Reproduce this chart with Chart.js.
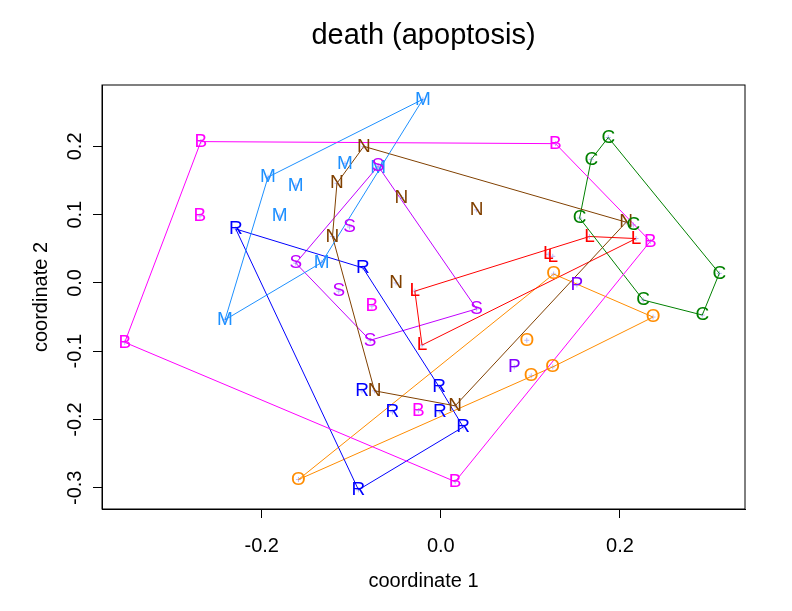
<!DOCTYPE html>
<html>
<head>
<meta charset="UTF-8">
<title>death (apoptosis)</title>
<script src="https://cdn.jsdelivr.net/npm/chart.js"></script>
<style>
  body { margin: 0; background: #fff; }
</style>
</head>
<body>
<canvas id="mdsChart" width="792" height="611"></canvas>
<script>
// group letters and their colours
const groups  = ['B', 'M', 'N', 'C', 'L', 'R', 'S', 'O', 'P'];
const colours = ['#FF00FF', '#1E90FF', '#804000', '#008000', '#FF0000', '#0000FF', '#C000FF', '#FF8C00', '#8000FF'];

// coordinate 1 (x) and coordinate 2 (y) of every sample, per group
const bX = [-0.268, -0.269, 0.128, 0.234, 0.016, -0.353, -0.077, -0.025];
const bY = [0.207, 0.098, 0.204, 0.061, -0.291, -0.087, -0.034, -0.187];
const mX = [-0.020, -0.193, -0.162, -0.107, -0.070, -0.180, -0.133, -0.241];
const mY = [0.269, 0.155, 0.143, 0.175, 0.168, 0.098, 0.030, -0.054];
const nX = [-0.086, -0.116, -0.044, 0.040, 0.207, -0.121, -0.050, -0.074, 0.016];
const nY = [0.200, 0.146, 0.125, 0.107, 0.089, 0.068, 0.000, -0.158, -0.180];
const cX = [0.187, 0.168, 0.155, 0.215, 0.311, 0.226, 0.292];
const cY = [0.213, 0.181, 0.095, 0.085, 0.014, -0.025, -0.047];
const lX = [-0.029, 0.166, 0.218, 0.120, 0.125, -0.021];
const lY = [-0.012, 0.068, 0.065, 0.042, 0.039, -0.091];
const rX = [-0.229, -0.087, -0.002, -0.088, -0.054, -0.001, 0.025, -0.092];
const rY = [0.079, 0.022, -0.152, -0.158, -0.189, -0.189, -0.211, -0.303];
const sX = [-0.070, -0.102, -0.162, -0.114, 0.040, -0.079];
const sY = [0.171, 0.082, 0.029, -0.012, -0.038, -0.084];
const oX = [0.126, 0.237, 0.096, 0.101, 0.125, -0.159];
const oY = [0.013, -0.050, -0.084, -0.136, -0.123, -0.288];
const pX = [0.152, 0.082];
const pY = [-0.003, -0.123];

const allX = [bX, mX, nX, cX, lX, rX, sX, oX, pX];
const allY = [bY, mY, nY, cY, lY, rY, sY, oY, pY];

// axis ticks
const xTicks = [-0.2, 0.0, 0.2];
const yTicks = [-0.3, -0.2, -0.1, 0.0, 0.1, 0.2];

// convex hull (monotone chain), closed
function hull(pts) {
    if (pts.length < 3) return [];
    const p = pts.slice().sort((a, b) => a.x - b.x || a.y - b.y);
    const cross = (o, a, b) => (a.x - o.x) * (b.y - o.y) - (a.y - o.y) * (b.x - o.x);
    const lower = [], upper = [];
    for (const q of p) {
        while (lower.length >= 2 && cross(lower[lower.length - 2], lower[lower.length - 1], q) <= 0) lower.pop();
        lower.push(q);
    }
    for (let i = p.length - 1; i >= 0; i--) {
        const q = p[i];
        while (upper.length >= 2 && cross(upper[upper.length - 2], upper[upper.length - 1], q) <= 0) upper.pop();
        upper.push(q);
    }
    const h = lower.slice(0, -1).concat(upper.slice(0, -1));
    h.push(h[0]);
    return h;
}

const datasets = [];
groups.forEach((g, i) => {
    const pts = allX[i].map((x, k) => ({ x: x, y: allY[i][k] }));
    datasets.push({
        type: 'line', label: g + ' hull', data: hull(pts),
        borderColor: colours[i], borderWidth: 1, pointRadius: 0, fill: false, tension: 0
    });
    datasets.push({
        type: 'scatter', label: g, data: pts, letter: g, letterColour: colours[i],
        pointStyle: 'cross', pointRadius: 2.5, borderColor: '#B8B8F8', borderWidth: 1
    });
});

// letters on the points, frame and main title
const letters = {
    id: 'letters',
    afterDatasetsDraw(chart) {
        const ctx = chart.ctx;
        const a = chart.chartArea;
        ctx.save();
        ctx.strokeStyle = '#000';
        ctx.lineWidth = 1;
        ctx.strokeRect(a.left, a.top, a.right - a.left, a.bottom - a.top);
        ctx.font = '19px "Liberation Sans", Arial, sans-serif';
        ctx.textAlign = 'center';
        ctx.textBaseline = 'middle';
        chart.data.datasets.forEach((ds, i) => {
            if (!ds.letter) return;
            ctx.fillStyle = ds.letterColour;
            chart.getDatasetMeta(i).data.forEach(pt => ctx.fillText(ds.letter, pt.x, pt.y));
        });
        ctx.fillStyle = '#000';
        ctx.font = '29px "Liberation Sans", Arial, sans-serif';
        ctx.fillText('death (apoptosis)', (a.left + a.right) / 2, 36);
        ctx.restore();
    }
};

const tickFont = { family: '"Liberation Sans", Arial, sans-serif', size: 20, lineHeight: 1.2 };

new Chart(document.getElementById('mdsChart').getContext('2d'), {
    type: 'scatter',
    data: { datasets: datasets },
    plugins: [letters],
    options: {
        responsive: false,
        animation: false,
        layout: { padding: { top: 85, right: 47, bottom: 0, left: 0 } },
        plugins: { legend: { display: false }, tooltip: { enabled: false } },
        scales: {
            x: {
                type: 'linear', min: -0.3784, max: 0.3397,
                afterBuildTicks: s => { s.ticks = xTicks.map(v => ({ value: v })); },
                afterFit: s => { s.height = 102; },
                grid: { drawOnChartArea: false, drawTicks: true, tickLength: 9, color: '#000' },
                border: { display: true, color: '#000' },
                ticks: { color: '#000', font: tickFont, padding: 16, callback: v => v.toFixed(1) },
                title: { display: true, text: 'coordinate 1', color: '#000', font: tickFont, padding: { top: 0, bottom: 18 } }
            },
            y: {
                type: 'linear', min: -0.3311, max: 0.2899,
                afterBuildTicks: s => { s.ticks = yTicks.map(v => ({ value: v })); },
                afterFit: s => { s.width = 102; },
                grid: { drawOnChartArea: false, drawTicks: true, tickLength: 9, color: '#000' },
                border: { display: true, color: '#000' },
                ticks: { color: '#000', font: tickFont, padding: 0, minRotation: 90, maxRotation: 90, crossAlign: 'center', callback: v => v.toFixed(1) },
                title: { display: true, text: 'coordinate 2', color: '#000', font: tickFont, padding: { top: 29, bottom: 0 } }
            }
        }
    }
});
</script>
</body>
</html>
